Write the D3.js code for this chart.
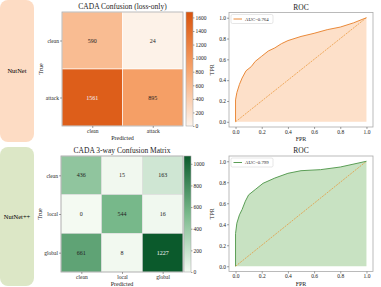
<html>
<head>
    <style type="text/css">
        body{ margin: 0; background-color: #fff; }
        svg text{ font-family: "Liberation Serif", "DejaVu Serif", serif; fill: #222; }
        .axis text{ font-family: "Liberation Serif", "DejaVu Serif", serif; font-size: 5.5px; }
        .axis path, .axis line{ stroke: #444; stroke-width: 0.5px; }
        .frame{ fill: none; stroke: #aaa; stroke-width: 0.8px; }
    </style>
    <script type="text/javascript" src="https://cdn.jsdelivr.net/npm/d3@7"></script>
</head>
<body>
<div id="chart"></div>
<script type="text/javascript">
    var width = 381, height = 287;

    // row labels
    var rowNames = ['NutNet', 'NutNet++'];

    // confusion matrix 1 (loss-only)
    var cm1Labels = ['clean', 'attack'];
    var cm1Values = [[590, 24], [1561, 895]];
    var cm1Ticks = [0, 200, 400, 600, 800, 1000, 1200, 1400, 1600];
    var cm1Max = 1680;

    // confusion matrix 2 (3-way)
    var cm2Labels = ['clean', 'local', 'global'];
    var cm2Values = [[436, 15, 163], [0, 544, 16], [661, 8, 1227]];
    var cm2Ticks = [0, 200, 400, 600, 800, 1000];
    var cm2Max = 1072;

    // ROC curves
    var roc1Fpr = [0, 0, 0.01, 0.03, 0.05, 0.08, 0.12, 0.15, 0.2, 0.25, 0.3, 0.35, 0.4, 0.5, 0.6, 0.7, 0.8, 0.9, 1];
    var roc1Tpr = [0, 0.21, 0.28, 0.36, 0.42, 0.49, 0.53, 0.58, 0.63, 0.68, 0.71, 0.75, 0.78, 0.82, 0.85, 0.885, 0.91, 0.95, 1];
    var roc2Fpr = [0, 0, 0.01, 0.03, 0.05, 0.075, 0.1, 0.15, 0.21, 0.3, 0.4, 0.5, 0.65, 0.8, 1];
    var roc2Tpr = [0, 0.31, 0.41, 0.49, 0.54, 0.62, 0.68, 0.73, 0.79, 0.84, 0.885, 0.91, 0.92, 0.945, 1];
    var rocTicks = [0, 0.2, 0.4, 0.6, 0.8, 1.0];

    var svg = d3.select('#chart')
        .append('svg')
        .attr('width', width)
        .attr('height', height);

    // left side panels
    var panels = [
        {y0: 0, y1: 142, fill: '#fddcc4'},
        {y0: 147, y1: 286, fill: '#dce7c6'}
    ];
    panels.forEach(function(p, i){
        svg.append('rect')
            .attr('x', 0).attr('y', p.y0)
            .attr('width', 34).attr('height', p.y1 - p.y0)
            .attr('rx', 8).attr('fill', p.fill);
        svg.append('text')
            .attr('x', 17).attr('y', (p.y0 + p.y1) / 2 + 2)
            .attr('text-anchor', 'middle')
            .style('font-size', '6.5px')
            .style('fill', '#000')
            .text(rowNames[i]);
    });

    function confusion(opt) {
        var n = opt.labels.length;
        var g = svg.append('g');
        var x = d3.scaleBand().domain(d3.range(n)).range([opt.x0, opt.x1]);
        var y = d3.scaleBand().domain(d3.range(n)).range([opt.y0, opt.y1]);
        var color = d3.scaleLinear().domain([0, opt.max / 2, opt.max]).range(opt.colors).clamp(true);

        var cells = [];
        opt.values.forEach(function(row, i){
            row.forEach(function(v, j){ cells.push({i: i, j: j, v: v}); });
        });

        g.selectAll('.cell').data(cells).enter()
            .append('rect')
            .attr('x', function(d){ return x(d.j); })
            .attr('y', function(d){ return y(d.i); })
            .attr('width', x.bandwidth())
            .attr('height', y.bandwidth())
            .attr('fill', function(d){ return color(d.v); })
            .attr('stroke', opt.gridColor)
            .attr('stroke-width', 0.6);

        g.selectAll('.val').data(cells).enter()
            .append('text')
            .attr('x', function(d){ return x(d.j) + x.bandwidth() / 2; })
            .attr('y', function(d){ return y(d.i) + y.bandwidth() / 2 + 2; })
            .attr('text-anchor', 'middle')
            .style('font-size', '6px')
            .style('fill', function(d){ return d.v / opt.max > 0.8 ? '#f4f4f4' : '#222'; })
            .text(function(d){ return d.v; });

        g.append('rect').attr('class', 'frame')
            .attr('x', opt.x0).attr('y', opt.y0)
            .attr('width', opt.x1 - opt.x0).attr('height', opt.y1 - opt.y0);

        var xa = d3.axisBottom(d3.scalePoint().domain(opt.labels).range([opt.x0 + x.bandwidth() / 2, opt.x1 - x.bandwidth() / 2]))
            .tickSize(2).tickPadding(1);
        var ya = d3.axisLeft(d3.scalePoint().domain(opt.labels).range([opt.y0 + y.bandwidth() / 2, opt.y1 - y.bandwidth() / 2]))
            .tickSize(2).tickPadding(1);
        g.append('g').attr('class', 'axis').attr('transform', 'translate(0,' + opt.y1 + ')').call(xa)
            .call(function(s){ s.select('.domain').remove(); });
        g.append('g').attr('class', 'axis').attr('transform', 'translate(' + opt.x0 + ',0)').call(ya)
            .call(function(s){ s.select('.domain').remove(); });

        g.append('text')
            .attr('x', (opt.x0 + opt.x1) / 2).attr('y', opt.y0 - 3)
            .attr('text-anchor', 'middle').style('font-size', '7.5px')
            .text(opt.title);
        g.append('text')
            .attr('x', (opt.x0 + opt.x1) / 2).attr('y', opt.y1 + 14)
            .attr('text-anchor', 'middle').style('font-size', '6px')
            .text('Predicted');
        g.append('text')
            .attr('transform', 'translate(' + (opt.x0 - 19) + ',' + ((opt.y0 + opt.y1) / 2) + ') rotate(-90)')
            .attr('text-anchor', 'middle').style('font-size', '6px')
            .text('True');

        // colorbar
        var cb = d3.scaleLinear().domain([0, opt.max]).range([opt.y1, opt.y0]);
        var gradId = 'grad' + opt.id;
        var grad = svg.append('defs').append('linearGradient')
            .attr('id', gradId).attr('x1', 0).attr('y1', 1).attr('x2', 0).attr('y2', 0);
        [0, 0.25, 0.5, 0.75, 1].forEach(function(t){
            grad.append('stop').attr('offset', t).attr('stop-color', color(t * opt.max));
        });
        g.append('rect')
            .attr('x', opt.cbx).attr('y', opt.y0)
            .attr('width', 7).attr('height', opt.y1 - opt.y0)
            .attr('fill', 'url(#' + gradId + ')')
            .attr('stroke', '#aaa').attr('stroke-width', 0.6);
        g.append('g').attr('class', 'axis')
            .attr('transform', 'translate(' + (opt.cbx + 7) + ',0)')
            .call(d3.axisRight(cb).tickValues(opt.ticks).tickFormat(d3.format('d')).tickSize(1.5).tickPadding(1))
            .call(function(s){ s.select('.domain').remove(); });
    }

    confusion({
        id: 1, labels: cm1Labels, values: cm1Values, max: cm1Max, ticks: cm1Ticks,
        x0: 62, x1: 183, y0: 12, y1: 126, cbx: 186,
        colors: ['#fdf4ec', '#f7a46c', '#d9530c'], gridColor: '#fff',
        title: 'CADA Confusion (loss-only)'
    });
    confusion({
        id: 2, labels: cm2Labels, values: cm2Values, max: cm2Max, ticks: cm2Ticks,
        x0: 61, x1: 183, y0: 156, y1: 272, cbx: 184,
        colors: ['#f4faf2', '#79b98b', '#0b5a2c'], gridColor: '#ddd',
        title: 'CADA 3-way Confusion Matrix'
    });

    function roc(opt) {
        var g = svg.append('g');
        var x = d3.scaleLinear().domain([-0.05, 1.05]).range([opt.x0, opt.x1]);
        var y = d3.scaleLinear().domain([-0.05, 1.05]).range([opt.y1, opt.y0]);
        var pts = opt.fpr.map(function(f, i){ return [f, opt.tpr[i]]; });

        g.append('path').datum(pts)
            .attr('fill', opt.fill)
            .attr('d', d3.area().x(function(d){ return x(d[0]); }).y0(y(0)).y1(function(d){ return y(d[1]); }));
        g.append('path').datum([[0, 0], [1, 1]])
            .attr('fill', 'none').attr('stroke', '#e8902e').attr('stroke-width', 0.7)
            .attr('stroke-dasharray', '2,1')
            .attr('d', d3.line().x(function(d){ return x(d[0]); }).y(function(d){ return y(d[1]); }));
        g.append('path').datum(pts)
            .attr('fill', 'none').attr('stroke', opt.line).attr('stroke-width', 1)
            .attr('d', d3.line().x(function(d){ return x(d[0]); }).y(function(d){ return y(d[1]); }));

        g.append('rect').attr('class', 'frame')
            .attr('x', opt.x0).attr('y', opt.y0)
            .attr('width', opt.x1 - opt.x0).attr('height', opt.y1 - opt.y0);

        var fmt = d3.format('.1f');
        g.append('g').attr('class', 'axis').attr('transform', 'translate(0,' + opt.y1 + ')')
            .call(d3.axisBottom(x).tickValues(rocTicks).tickFormat(fmt).tickSize(2).tickPadding(1))
            .call(function(s){ s.select('.domain').remove(); });
        g.append('g').attr('class', 'axis').attr('transform', 'translate(' + opt.x0 + ',0)')
            .call(d3.axisLeft(y).tickValues(rocTicks).tickFormat(fmt).tickSize(2).tickPadding(1))
            .call(function(s){ s.select('.domain').remove(); });

        g.append('text')
            .attr('x', (opt.x0 + opt.x1) / 2).attr('y', opt.y0 - 3)
            .attr('text-anchor', 'middle').style('font-size', '7.5px')
            .text('ROC');
        g.append('text')
            .attr('x', (opt.x0 + opt.x1) / 2).attr('y', opt.y1 + 14)
            .attr('text-anchor', 'middle').style('font-size', '6px')
            .text('FPR');
        g.append('text')
            .attr('transform', 'translate(' + (opt.x0 - 15) + ',' + ((opt.y0 + opt.y1) / 2) + ') rotate(-90)')
            .attr('text-anchor', 'middle').style('font-size', '6px')
            .text('TPR');

        // legend
        var lg = g.append('g').attr('transform', 'translate(' + (opt.x0 + 2) + ',' + (opt.y0 + 2) + ')');
        lg.append('rect').attr('width', 42).attr('height', 9).attr('rx', 1.5)
            .attr('fill', '#fff').attr('fill-opacity', 0.85)
            .attr('stroke', '#ccc').attr('stroke-width', 0.5);
        lg.append('line').attr('x1', 2.5).attr('x2', 11).attr('y1', 4.5).attr('y2', 4.5)
            .attr('stroke', opt.line).attr('stroke-width', 1);
        lg.append('text').attr('x', 14).attr('y', 6.3)
            .style('font-size', '4.8px')
            .text(opt.label);
    }

    roc({ fpr: roc1Fpr, tpr: roc1Tpr, x0: 229, x1: 373, y0: 12.5, y1: 127,
        fill: '#fde0c9', line: '#ea8a3a', label: 'AUC=0.764' });
    roc({ fpr: roc2Fpr, tpr: roc2Tpr, x0: 229, x1: 373, y0: 156, y1: 271.5,
        fill: '#c8e2c2', line: '#5b9e56', label: 'AUC=0.799' });
</script>
</body>
</html>
